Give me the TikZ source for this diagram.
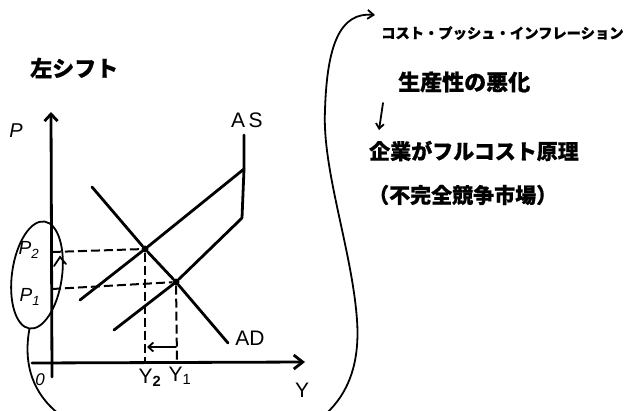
\documentclass[tikz,border=0pt]{standalone}
\usepackage{fontspec}
\setmainfont{Liberation Sans}
\newfontfamily\jp[FakeBold=0.7]{Noto Sans CJK JP}
\usetikzlibrary{arrows.meta,shapes.geometric}
\tikzset{
  ink/.style={line width=2.8pt, line cap=round, line join=round, black},
  thin ink/.style={line width=1.8pt, line cap=round, black},
  guide/.style={line width=2pt, dash pattern=on 9pt off 4pt, black},
  lbl/.style={inner sep=0pt, font=\fontsize{21}{21}\selectfont},
  jtxt/.style={inner sep=0pt, anchor=west, font=\jp\bfseries\fontsize{21}{24}\selectfont},
  dot/.style={circle, fill=black, inner sep=0pt, minimum size=7pt}
}
\begin{document}
\begin{tikzpicture}[x=1pt,y=-1pt]
\useasboundingbox (0,0) rectangle (636,410);
\clip (0,0) rectangle (636,410);
% title
\node[jtxt, font=\jp\bfseries\fontsize{22}{24}\selectfont] (title) at (30,68) {左シフト};
% axes
\coordinate (ybot) at (52,377);
\coordinate (ytop) at (51,112);
\coordinate (xl) at (32,363);
\coordinate (xr) at (305,362);
\draw[ink, -{Straight Barb[length=7pt,width=13pt]}] (ybot) -- (ytop);
\draw[ink, -{Straight Barb[length=9pt,width=14pt]}] (xl) -- (xr);
\node[lbl, font=\itshape\fontsize{20}{20}\selectfont] (plab) at (16,131) {P};
\node[lbl] (ylab) at (302,390) {Y};
\node[lbl, font=\itshape\fontsize{17}{17}\selectfont] (olab) at (40,380) {0};
% equilibria
\node[dot] (E2) at (145,249) {};
\node[dot] (E1) at (176,282) {};
% AD
\coordinate (ad1) at (92,187);
\coordinate (ad2) at (228,343);
\draw[ink] (ad1) -- (E2) -- (E1) -- (ad2);
\node[lbl] (adlab) at (250,338) {AD};
% AS curves
\coordinate (astop) at (244,135);
\coordinate (askink2) at (244,169);
\coordinate (askink1) at (242,218);
\coordinate (as2low) at (80,300);
\coordinate (as1low) at (114,330);
\draw[ink] (astop) -- (askink2) -- (askink1);
\draw[ink] (as2low) -- (E2) -- (askink2);
\draw[ink] (as1low) -- (E1) -- (askink1);
\node[lbl] (aslab) at (247,120) {A\,S};
% guides
\coordinate (p2ax) at (52,252);
\coordinate (p1ax) at (52,289);
\coordinate (y2ax) at (145,362);
\coordinate (y1ax) at (177,362);
\draw[guide] (p2ax) -- (E2);
\draw[guide] (p1ax) -- (E1);
\draw[guide] (E2) -- (y2ax);
\draw[guide] (E1) -- (y1ax);
% shift arrow
\coordinate (sa1) at (176,347);
\coordinate (sa2) at (147,347);
\draw[thin ink, -{Straight Barb[length=5pt,width=9pt]}] (sa1) -- (sa2);
\node[lbl] (y2lab) at (150,378) {Y\textsubscript{\bfseries 2}};
\node[lbl] (y1lab) at (180,376) {Y\textsubscript{1}};
% price labels and ellipse
\node[lbl, font=\itshape\fontsize{19}{19}\selectfont] (p2lab) at (29,250) {P\textsubscript{2}};
\node[lbl, font=\itshape\fontsize{19}{19}\selectfont] (p1lab) at (30,297) {P\textsubscript{1}};
\node[draw, ellipse, thin ink, minimum width=50pt, minimum height=108pt, rotate=-8] (ell) at (37,275) {};
\coordinate (chl) at (54,266);
\coordinate (cht) at (60,257);
\coordinate (chr) at (66,264);
\draw[thin ink] (chl) -- (cht) -- (chr);
% right side texts
\node[jtxt, font=\jp\bfseries\fontsize{14.3}{17}\selectfont] (cost) at (381,33) {コスト・プッシュ・インフレーション};
\node[jtxt, font=\jp\bfseries\fontsize{22}{24}\selectfont] (prod) at (398,82) {生産性の悪化};
\node[jtxt] (firm) at (369,151) {企業がフルコスト原理};
\node[jtxt] (mkt) at (368,195) {（不完全競争市場）};
\coordinate (da1) at (383,103);
\coordinate (da2) at (379,130);
\draw[thin ink, -{Straight Barb[length=5pt,width=8pt]}] (da1) -- (da2);
% big connector
\coordinate (cend) at (375,15);
\draw[thin ink, -{Straight Barb[length=6pt,width=9pt]}]
  (ell.south) .. controls (22,370) and (30,440) .. (180,450)
  .. controls (330,455) and (362,390) .. (357,320)
  .. controls (352,250) and (322,170) .. (325,110)
  .. controls (327,45) and (340,12) .. (cend);
\end{tikzpicture}
\end{document}
